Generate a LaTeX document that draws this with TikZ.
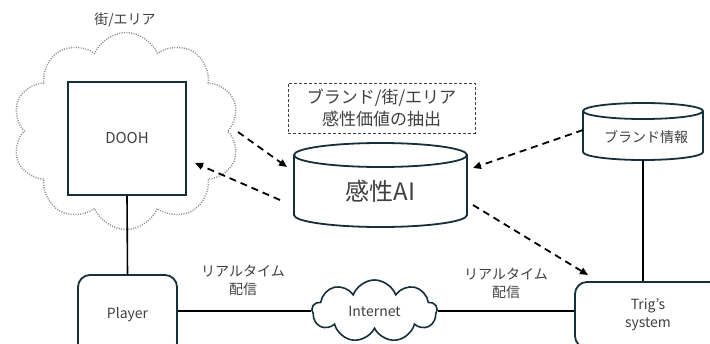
\documentclass[tikz,border=0pt]{standalone}
\usepackage{fontspec}
\setmainfont{Noto Sans CJK JP}
\usetikzlibrary{shapes.symbols,arrows.meta}
\definecolor{edge}{HTML}{15303A}
\definecolor{txt}{HTML}{404040}
\definecolor{dotc}{HTML}{8C8C8C}
\begin{document}
\begin{tikzpicture}[x=1pt,y=-1pt,
  lbl/.style={text=txt,font=\fontsize{14}{18}\selectfont,align=center,inner sep=0pt},
  boxb/.style={draw=edge,line width=1.8pt},
  conn/.style={draw=black,line width=1.6pt},
  darrow/.style={draw=black,line width=1.8pt,dash pattern=on 7pt off 5pt,-{Triangle[length=8pt,width=7pt]}},
]
\useasboundingbox (0,0) rectangle (710,343);
\clip (0,0) rectangle (710,343);
\fill[white] (0,0) rectangle (710,343);

% area cloud
\node[cloud, cloud puffs=10, cloud puff arc=135, cloud ignores aspect, draw=dotc, line width=1.4pt,
      dash pattern=on 1pt off 1.4pt, minimum width=227pt, minimum height=197pt] (area) at (126,131) {};
\node[lbl] (areal) at (125,20) {街/エリア};
\node[boxb, fill=white, minimum width=118pt, minimum height=113pt, lbl, font=\fontsize{15}{18}\selectfont] (dooh) at (127,138.5) {DOOH};

% extraction label
\node[draw=txt, dash pattern=on 3pt off 2pt, line width=0.9pt, minimum width=187pt, minimum height=50pt,
      text=txt, align=center, font=\fontsize{17}{22}\selectfont] (extract) at (381.5,108) {ブランド/街/エリア\\感性価値の抽出};

% AI cylinder
\draw[boxb, fill=white] (294,155) -- (294,215) arc[start angle=180,end angle=360,x radius=86.5pt,y radius=12pt] -- (467,155);
\draw[boxb] (380.5,155) ellipse[x radius=86.5pt,y radius=12pt];
\node[lbl, font=\fontsize{24}{28}\selectfont] (ai) at (380.5,191) {感性AI};

% brand cylinder
\draw[boxb, fill=white] (583,111) -- (583,152) arc[start angle=180,end angle=360,x radius=60pt,y radius=8pt] -- (703,111);
\draw[boxb] (643,111) ellipse[x radius=60pt,y radius=8pt];
\coordinate (brandbot) at (643,160);
\node[lbl] (brand) at (646,137) {ブランド情報};

% bottom row
\node[boxb, rounded corners=12pt, minimum width=99pt, minimum height=80pt, lbl] (player) at (127.5,315) {Player};
\node[boxb, rounded corners=12pt, minimum width=146pt, minimum height=66pt, lbl] (trig) at (648,315) {Trig's\\system};
\node[cloud, cloud puffs=9, cloud puff arc=140, cloud ignores aspect, draw=edge, line width=1.6pt, minimum width=125pt,
      minimum height=62pt, lbl] (inet) at (374.5,311) {Internet};

\node[lbl] (rt1) at (243,280) {リアルタイム\\配信};
\node[lbl] (rt2) at (506,283) {リアルタイム\\配信};

% connectors
\draw[conn] (dooh.south) -- (player.north);
\draw[conn] (inet.west) -- (inet.west -| player.east);
\draw[conn] (inet.east) -- (inet.east -| trig.west);
\draw[conn] (brandbot) -- (brandbot |- trig.north);

% dashed arrows
\coordinate (a1s) at (238,132); \coordinate (a1e) at (287,167);
\coordinate (a2s) at (280,200); \coordinate (a2e) at (195,163);
\coordinate (a3s) at (583,130); \coordinate (a3e) at (473,168);
\coordinate (a4s) at (473,205); \coordinate (a4e) at (588,275);
\draw[darrow] (a1s) -- (a1e);
\draw[darrow] (a2s) -- (a2e);
\draw[darrow] (a3s) -- (a3e);
\draw[darrow] (a4s) -- (a4e);
\end{tikzpicture}
\end{document}
